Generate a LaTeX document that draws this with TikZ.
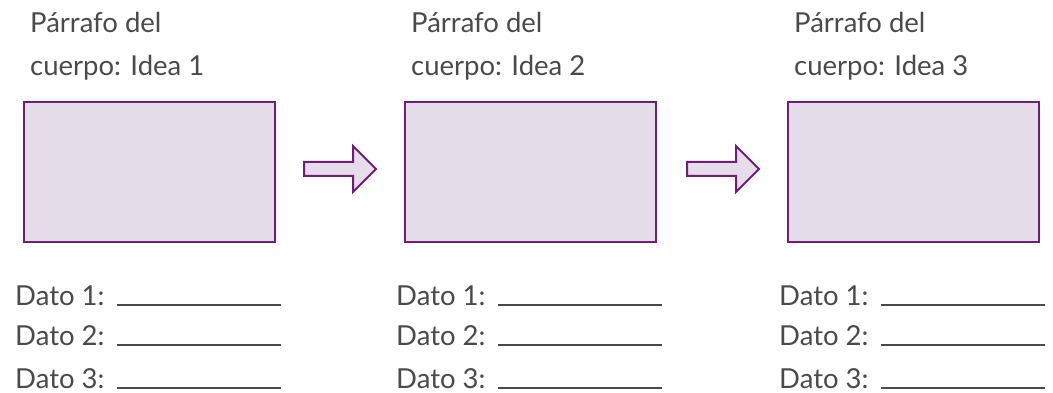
\documentclass[tikz,border=0pt]{standalone}
\usepackage{fontspec}
\setmainfont{Lato}
\usepackage{tikz}

\definecolor{boxfill}{HTML}{E5DDEA}
\definecolor{boxline}{HTML}{701D79}
\definecolor{textgrey}{HTML}{4A4A4A}

\tikzset{
  titletext/.style={anchor=base west, inner sep=0pt, align=left, text=textgrey,
    font=\fontsize{27.5}{43}\selectfont},
  datotext/.style={anchor=base west, inner sep=0pt, text=textgrey,
    font=\fontsize{27.5}{34}\selectfont},
  ideabox/.style={draw=boxline, fill=boxfill, line width=2pt},
  blank/.style={draw=textgrey, line width=1.1pt},
  nextarrow/.style={draw=boxline, fill=boxfill, line width=2pt, line join=miter}
}

\begin{document}
\begin{tikzpicture}[x=1pt,y=-1pt]
	\useasboundingbox (0,0) rectangle (1053,393);
	\foreach \i/\dx in {1/0,2/381,3/764} {
		\begin{scope}[xshift=\dx pt]
			% base anchor sits on the last line
			\node[titletext] (idea\i) at (30,76) {Párrafo del\\cuerpo: Idea \i};
			\draw[ideabox] (24,102) rectangle (275,242);
			\node[datotext] (dato\i1) at (15,305) {Dato 1:};
			\node[datotext] (dato\i2) at (15,345) {Dato 2:};
			\node[datotext] (dato\i3) at (15,388) {Dato 3:};
			\draw[blank] (117,305) -- (281,305);
			\draw[blank] (117,345) -- (281,345);
			\draw[blank] (117,388) -- (281,388);
		\end{scope}
	}
	% arrows between the boxes
	\foreach \dx in {0,383} {
		\draw[nextarrow, xshift=\dx pt] (304,162) -- (353,162) -- (353,146) -- (376,169)
			-- (353,192) -- (353,176) -- (304,176) -- cycle;
	}
\end{tikzpicture}
\end{document}
